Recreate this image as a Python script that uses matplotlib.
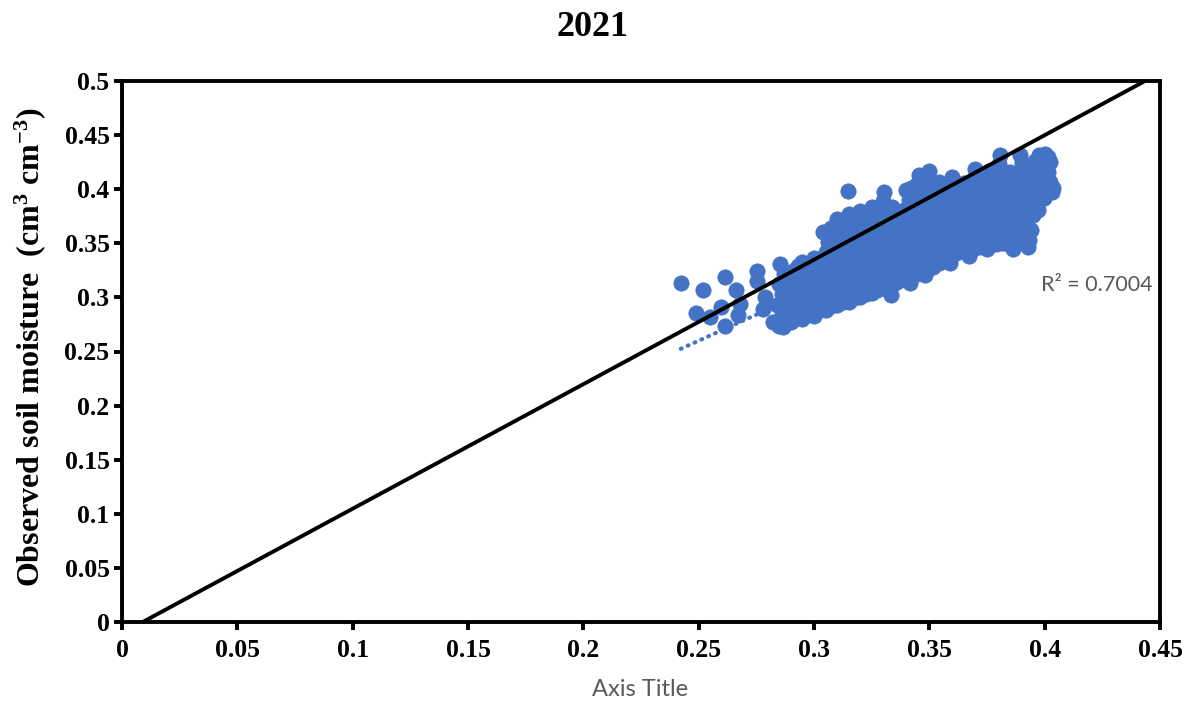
import numpy as np
import matplotlib
matplotlib.use("Agg")
import matplotlib.pyplot as plt
from matplotlib.ticker import FuncFormatter

plt.rcParams["mathtext.fontset"] = "custom"
plt.rcParams["mathtext.rm"] = "Liberation Serif"
plt.rcParams["mathtext.bf"] = "Liberation Serif:bold"
plt.rcParams["mathtext.it"] = "Liberation Serif:italic"

# Simulated (x) versus observed (y) soil moisture, cm3 cm-3
simulated = [
    # scattered low values
    0.2423, 0.2518, 0.2614, 0.2488, 0.2549, 0.2596, 0.2661, 0.2614, 0.2670, 0.2679,
    0.2752, 0.2752, 0.2852, 0.2930, 0.2787, 0.2779, 0.2822, 0.2865, 0.2939, 0.3082,
    # main cloud
    0.285, 0.286, 0.284, 0.286, 0.285, 0.287,
    0.290, 0.289, 0.291, 0.290, 0.289, 0.291,
    0.295, 0.296, 0.294, 0.295, 0.296, 0.294, 0.295,
    0.300, 0.299, 0.301, 0.300, 0.299, 0.301, 0.300,
    0.305, 0.306, 0.304, 0.305, 0.306, 0.304, 0.305, 0.306, 0.304,
    0.310, 0.309, 0.311, 0.310, 0.309, 0.311, 0.310, 0.309, 0.311, 0.310,
    0.315, 0.316, 0.314, 0.315, 0.316, 0.314, 0.315, 0.316, 0.314, 0.315, 0.3147,
    0.320, 0.319, 0.321, 0.320, 0.319, 0.321, 0.320, 0.319, 0.321, 0.320,
    0.325, 0.326, 0.324, 0.325, 0.326, 0.324, 0.325, 0.326, 0.324, 0.325,
    0.330, 0.329, 0.331, 0.330, 0.329, 0.331, 0.330, 0.329, 0.331, 0.330, 0.3305,
    0.335, 0.336, 0.334, 0.335, 0.336, 0.334, 0.335, 0.336, 0.334,
    0.340, 0.339, 0.341, 0.340, 0.339, 0.341, 0.340, 0.339, 0.341, 0.340,
    0.3445, 0.3455, 0.3435, 0.3445, 0.3455, 0.3435, 0.3445, 0.3455, 0.3435, 0.3445, 0.3455,
    0.349, 0.350, 0.348, 0.349, 0.350, 0.348, 0.349, 0.350, 0.348, 0.349, 0.350,
    0.354, 0.355, 0.353, 0.354, 0.355, 0.353, 0.354, 0.355, 0.354,
    0.359, 0.358, 0.360, 0.359, 0.358, 0.360, 0.359, 0.358, 0.360,
    0.364, 0.365, 0.363, 0.364, 0.365, 0.363, 0.364, 0.365,
    0.369, 0.368, 0.370, 0.369, 0.368, 0.370, 0.369, 0.368, 0.370,
    0.374, 0.375, 0.373, 0.374, 0.375, 0.373, 0.374, 0.375, 0.376,
    0.379, 0.378, 0.380, 0.379, 0.378, 0.380, 0.379, 0.378, 0.380, 0.3805,
    0.384, 0.385, 0.383, 0.384, 0.385, 0.383, 0.384, 0.385,
    0.389, 0.388, 0.390, 0.389, 0.388, 0.390, 0.389, 0.388, 0.390, 0.3895,
    0.393, 0.394, 0.392, 0.393, 0.394, 0.392, 0.393, 0.394,
    0.397, 0.398, 0.396, 0.397, 0.398, 0.396, 0.3975,
    0.4015, 0.4025, 0.4015, 0.4025, 0.4015, 0.4035,
    # interior of the cloud
    0.2875, 0.2875, 0.2875, 0.2875, 0.2875,
    0.2925, 0.2925, 0.2925, 0.2925, 0.2925, 0.2925,
    0.2975, 0.2975, 0.2975, 0.2975, 0.2975, 0.2975,
    0.3025, 0.3025, 0.3025, 0.3025, 0.3025, 0.3025,
    0.3075, 0.3075, 0.3075, 0.3075, 0.3075, 0.3075, 0.3075, 0.3075, 0.3075,
    0.3125, 0.3125, 0.3125, 0.3125, 0.3125, 0.3125, 0.3125, 0.3125, 0.3125,
    0.3175, 0.3175, 0.3175, 0.3175, 0.3175, 0.3175, 0.3175, 0.3175, 0.3175,
    0.3225, 0.3225, 0.3225, 0.3225, 0.3225, 0.3225, 0.3225, 0.3225, 0.3225,
    0.3275, 0.3275, 0.3275, 0.3275, 0.3275, 0.3275, 0.3275, 0.3275, 0.3275,
    0.3325, 0.3325, 0.3325, 0.3325, 0.3325, 0.3325, 0.3325, 0.3325, 0.3325,
    0.3375, 0.3375, 0.3375, 0.3375, 0.3375, 0.3375, 0.3375, 0.3375,
    0.342, 0.342, 0.342, 0.342, 0.342, 0.342, 0.342, 0.342, 0.342, 0.342,
    0.347, 0.347, 0.347, 0.347, 0.347, 0.347, 0.347, 0.347, 0.347, 0.347,
    0.3515, 0.3515, 0.3515, 0.3515, 0.3515, 0.3515, 0.3515, 0.3515, 0.3515,
    0.3565, 0.3565, 0.3565, 0.3565, 0.3565, 0.3565, 0.3565, 0.3565,
    0.3615, 0.3615, 0.3615, 0.3615, 0.3615, 0.3615, 0.3615, 0.3615,
    0.3665, 0.3665, 0.3665, 0.3665, 0.3665, 0.3665, 0.3665,
    0.3715, 0.3715, 0.3715, 0.3715, 0.3715, 0.3715, 0.3715, 0.3715,
    0.3765, 0.3765, 0.3765, 0.3765, 0.3765, 0.3765, 0.3765, 0.3765,
    0.3815, 0.3815, 0.3815, 0.3815, 0.3815, 0.3815, 0.3815, 0.3815,
    0.3865, 0.3865, 0.3865, 0.3865, 0.3865, 0.3865, 0.3865,
    0.391, 0.391, 0.391, 0.391, 0.391, 0.391, 0.391, 0.391,
    0.395, 0.395, 0.395, 0.395, 0.395, 0.395,
    0.3995, 0.3995, 0.3995, 0.3995,
    # points along the lower and right margins of the cloud
    0.3480, 0.3515, 0.3589, 0.3672, 0.3750, 0.3862, 0.3927, 0.3966,
    0.4031, 0.4023, 0.4001, 0.3332, 0.3416,
]
observed = [
    0.3130, 0.3065, 0.3190, 0.2860, 0.2815, 0.2907, 0.3065, 0.2740, 0.2833, 0.2935,
    0.3240, 0.3148, 0.3306, 0.3287, 0.3000, 0.2889, 0.2769, 0.2731, 0.2815, 0.3519,
    0.274, 0.284, 0.293, 0.303, 0.312, 0.322,
    0.277, 0.287, 0.296, 0.305, 0.315, 0.324,
    0.280, 0.289, 0.298, 0.307, 0.316, 0.326, 0.333,
    0.283, 0.292, 0.301, 0.310, 0.319, 0.328, 0.336,
    0.288, 0.297, 0.306, 0.315, 0.324, 0.333, 0.342, 0.351, 0.360,
    0.293, 0.302, 0.311, 0.320, 0.329, 0.338, 0.347, 0.356, 0.365, 0.372,
    0.296, 0.305, 0.314, 0.323, 0.332, 0.341, 0.350, 0.359, 0.368, 0.377, 0.398,
    0.300, 0.309, 0.318, 0.327, 0.336, 0.345, 0.354, 0.363, 0.372, 0.380,
    0.304, 0.313, 0.322, 0.331, 0.340, 0.349, 0.358, 0.367, 0.376, 0.384,
    0.309, 0.318, 0.327, 0.336, 0.345, 0.354, 0.363, 0.372, 0.381, 0.389, 0.397,
    0.313, 0.322, 0.331, 0.340, 0.349, 0.358, 0.367, 0.376, 0.384,
    0.318, 0.327, 0.336, 0.345, 0.354, 0.363, 0.372, 0.381, 0.390, 0.399,
    0.322, 0.331, 0.340, 0.349, 0.358, 0.367, 0.376, 0.385, 0.394, 0.405, 0.413,
    0.326, 0.335, 0.344, 0.353, 0.362, 0.371, 0.380, 0.389, 0.398, 0.408, 0.417,
    0.332, 0.341, 0.350, 0.359, 0.368, 0.377, 0.386, 0.395, 0.407,
    0.339, 0.348, 0.357, 0.366, 0.375, 0.384, 0.393, 0.402, 0.411,
    0.343, 0.352, 0.361, 0.370, 0.379, 0.388, 0.397, 0.406,
    0.345, 0.354, 0.363, 0.372, 0.381, 0.390, 0.399, 0.408, 0.419,
    0.348, 0.357, 0.366, 0.375, 0.384, 0.393, 0.402, 0.411, 0.417,
    0.349, 0.358, 0.367, 0.376, 0.385, 0.394, 0.403, 0.412, 0.423, 0.432,
    0.349, 0.358, 0.367, 0.376, 0.385, 0.394, 0.403, 0.416,
    0.350, 0.359, 0.368, 0.377, 0.386, 0.395, 0.404, 0.413, 0.424, 0.432,
    0.353, 0.362, 0.371, 0.380, 0.389, 0.398, 0.407, 0.416,
    0.381, 0.390, 0.399, 0.408, 0.417, 0.426, 0.432,
    0.397, 0.406, 0.416, 0.425, 0.430, 0.401,
    0.279, 0.288, 0.297, 0.306, 0.315,
    0.282, 0.291, 0.300, 0.309, 0.318, 0.327,
    0.285, 0.294, 0.303, 0.312, 0.321, 0.330,
    0.288, 0.297, 0.306, 0.315, 0.324, 0.333,
    0.292, 0.301, 0.310, 0.319, 0.328, 0.337, 0.346, 0.355, 0.364,
    0.296, 0.305, 0.314, 0.323, 0.332, 0.341, 0.350, 0.359, 0.368,
    0.299, 0.308, 0.317, 0.326, 0.335, 0.344, 0.353, 0.362, 0.371,
    0.303, 0.312, 0.321, 0.330, 0.339, 0.348, 0.357, 0.366, 0.375,
    0.307, 0.316, 0.325, 0.334, 0.343, 0.352, 0.361, 0.370, 0.379,
    0.312, 0.321, 0.330, 0.339, 0.348, 0.357, 0.366, 0.375, 0.383,
    0.316, 0.325, 0.334, 0.343, 0.352, 0.361, 0.370, 0.379,
    0.320, 0.329, 0.338, 0.347, 0.356, 0.365, 0.374, 0.383, 0.392, 0.401,
    0.325, 0.334, 0.343, 0.352, 0.361, 0.370, 0.379, 0.388, 0.397, 0.406,
    0.330, 0.339, 0.348, 0.357, 0.366, 0.375, 0.384, 0.393, 0.402,
    0.336, 0.345, 0.354, 0.363, 0.372, 0.381, 0.390, 0.399,
    0.341, 0.350, 0.359, 0.368, 0.377, 0.386, 0.395, 0.404,
    0.345, 0.354, 0.363, 0.372, 0.381, 0.390, 0.399,
    0.347, 0.356, 0.365, 0.374, 0.383, 0.392, 0.401, 0.410,
    0.349, 0.358, 0.367, 0.376, 0.385, 0.394, 0.403, 0.412,
    0.350, 0.359, 0.368, 0.377, 0.386, 0.395, 0.404, 0.413,
    0.351, 0.360, 0.369, 0.378, 0.387, 0.396, 0.405,
    0.352, 0.361, 0.370, 0.379, 0.388, 0.397, 0.406, 0.415,
    0.376, 0.385, 0.394, 0.403, 0.412, 0.421,
    0.392, 0.401, 0.410, 0.419,
    0.321, 0.3278, 0.332, 0.338, 0.3444, 0.3444, 0.3463, 0.3815,
    0.397, 0.4065, 0.4324, 0.302, 0.313,
]

# Linear trendline of observed on simulated
trend_slope = 0.965
trend_intercept = 0.0187
r2_text = "R\u00b2 = 0.7004"

# Reference line drawn across the plot
ref_line_x = [0.009, 0.4435]
ref_line_y = [0.0, 0.5]

x_ticks = [0, 0.05, 0.1, 0.15, 0.2, 0.25, 0.3, 0.35, 0.4, 0.45]
y_ticks = [0, 0.05, 0.1, 0.15, 0.2, 0.25, 0.3, 0.35, 0.4, 0.45, 0.5]

title_text = "2021"

sim = np.array(simulated)
obs = np.array(observed)

W, H = 1187, 706
fig = plt.figure(figsize=(W / 100, H / 100), dpi=100)
ax = fig.add_axes([122 / W, 1 - 622 / H, (1160 - 122) / W, (622 - 81) / H])

blue = "#4472C4"

# dotted trendline sits beneath the markers
tx = np.array([sim.min(), sim.max()])
ax.plot(tx, trend_slope * tx + trend_intercept, color=blue, lw=3.0,
        linestyle=(0, (0.2, 1.6)), dash_capstyle="round", zorder=2)

ax.scatter(sim, obs, s=122, color=blue, edgecolors=blue, linewidths=0.5, zorder=3)

ax.plot(ref_line_x, ref_line_y, color="black", lw=2.8, zorder=4,
        solid_capstyle="butt", clip_on=False)

ax.set_xlim(x_ticks[0], x_ticks[-1])
ax.set_ylim(y_ticks[0], y_ticks[-1])
ax.set_xticks(x_ticks)
ax.set_yticks(y_ticks)
fmt = FuncFormatter(lambda v, p: format(round(v, 2), "g"))
ax.xaxis.set_major_formatter(fmt)
ax.yaxis.set_major_formatter(fmt)

for sp in ax.spines.values():
    sp.set_linewidth(2.8)
    sp.set_color("black")

ax.tick_params(direction="out", length=6, width=2.8, color="black")
ax.tick_params(axis="x", pad=6)
ax.tick_params(axis="y", pad=3)
for lab in ax.get_xticklabels() + ax.get_yticklabels():
    lab.set_fontfamily("Liberation Serif")
    lab.set_fontweight("bold")
    lab.set_fontsize(18.5)

ax.text(0.3982, 0.311, r2_text, ha="left", va="center", color="#595959",
        fontsize=15.5, family="Lato", zorder=5)

fig.text(592 / W, 1 - 28 / H, title_text, ha="center", va="center",
         fontsize=26, fontweight="bold", family="Liberation Serif")

fig.text(640 / W, 1 - 690 / H, "Axis Title", ha="center", va="center",
         fontsize=17, color="#595959", family="Lato")

fig.text(30 / W, 1 - 347 / H,
         r"Observed soil moisture  (cm$^{\mathbf{3}}$ cm$^{\mathbf{-3}}$)",
         ha="center", va="center", rotation=90,
         fontsize=23, fontweight="bold", family="Liberation Serif")

fig.savefig("out.png", dpi=100)
